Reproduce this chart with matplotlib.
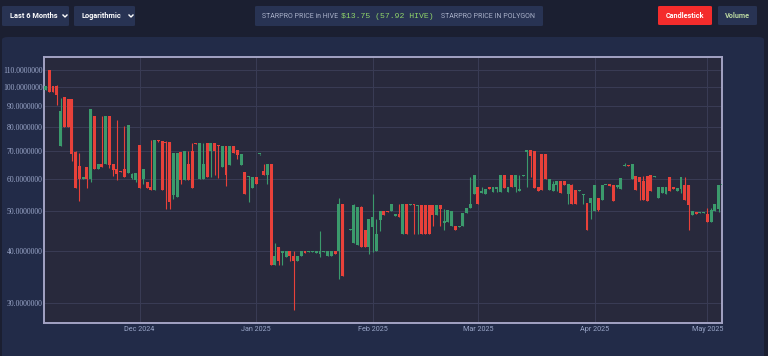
import numpy as np
import pandas as pd
import matplotlib
matplotlib.use('Agg')
import matplotlib.pyplot as plt
import matplotlib.dates as mdates
from matplotlib.patches import FancyBboxPatch
from matplotlib.lines import Line2D

nan = np.nan

# daily OHLC, STARPRO priced in HIVE, starting 2024-11-06
opens = [98.5, 109.7, 100.5, 100.5, 71.8, 94.6, 93.5, 93.5, 69.6, 64.5,
         60.0, 64.2, 60.0, 85.3, 63.5, 65.2, 65.2, 85.3, 65.2, 63.5,
         62.7, 63.4, 61.9, 60.3, 59.5, 72.2, 60.0, 59.0, 57.3, 56.2,
         74.3, 74.0, 73.8, 73.8, 54.7, 54.2, 69.6, 59.7, 65.2, 70.0,
         73.0, 60.0, 60.0, 73.0, 70.0, 73.0, 72.5, 64.0, 72.0, 64.6,
         72.0, 70.3, 64.8, 62.2, 60.5, 57.1, 60.6, 68.7, 62.5, 61.4,
         65.2, 37.0, 41.1, 39.6, 38.8, 40.0, 39.0, 38.0, 39.0, 40.0,
         39.9, 39.8, 39.6, 39.5, 39.9, 39.0, 39.1, 40.0, 40.0, 52.2,
         nan, 45.0, 42.0, 41.5, 51.2, 45.1, 41.1, 45.9, 40.0, 47.6,
         50.0, 50.0, 50.2, 48.8, 49.2, 44.1, 52.1, 51.8, 52.0, 51.5,
         51.7, 51.7, 51.7, 51.7, 49.0, 51.7, 46.9, 47.2, 46.1, 46.1,
         45.9, 46.1, 49.5, 51.0, 55.0, 57.3, 55.5, 55.2, 57.3, 55.7,
         56.8, 55.7, 61.1, 55.7, 61.1, 57.3, 56.0, 60.9, 69.8, 70.3,
         70.0, 57.3, 69.0, 69.0, 56.2, 56.0, 58.0, 59.2, 59.2, 55.1,
         58.0, 56.2, 56.0, 54.8, 52.4, 52.4, 50.0, 53.8, 53.4, 57.8,
         58.0, 58.0, 57.3, 56.8, 64.3, 64.8, 60.0, 60.8, 60.4, 59.2,
         60.8, 61.1, 60.6, 54.0, 55.5, 55.1, 60.4, 57.3, 56.0, 56.8,
         58.0, 58.0, 48.9, 49.8, 49.5, 49.5, 49.4, 47.2, 50.0, 50.8,
         57.8]
highs = [100.5, 110.2, 100.5, 101.2, 94.2, 94.6, 93.5, 93.5, 70.0, 69.2,
         60.3, 64.2, 88.6, 85.3, 65.0, 85.0, 85.2, 85.3, 65.2, 83.4,
         62.7, 80.3, 81.0, 62.0, 61.9, 72.2, 63.2, 59.0, 74.3, 74.3,
         74.3, 74.0, 74.0, 73.8, 69.2, 69.2, 69.6, 70.0, 70.0, 73.0,
         73.2, 73.0, 73.0, 73.0, 73.0, 73.0, 72.5, 72.0, 72.0, 72.0,
         72.0, 70.3, 68.9, 62.2, 61.0, 60.6, 60.6, 69.0, 65.2, 65.2,
         65.2, 41.9, 41.1, 40.0, 40.0, 40.0, 40.0, 39.0, 40.0, 40.0,
         40.1, 40.0, 40.0, 44.9, 40.0, 40.0, 40.0, 40.0, 53.8, 52.2,
         nan, 45.4, 52.0, 51.2, 51.5, 45.1, 48.0, 55.2, 48.0, 50.0,
         50.0, 50.0, 52.0, 49.2, 52.2, 52.1, 52.1, 52.1, 52.0, 51.8,
         51.7, 51.7, 51.7, 51.7, 51.7, 51.7, 50.8, 50.3, 50.0, 46.1,
         46.1, 49.5, 51.0, 60.4, 61.1, 57.3, 57.3, 56.7, 57.3, 57.3,
         57.3, 61.1, 61.1, 57.3, 61.1, 61.1, 61.1, 61.1, 70.3, 70.3,
         70.0, 57.3, 69.0, 69.0, 60.0, 59.2, 59.2, 59.2, 59.2, 58.3,
         58.3, 56.2, 56.2, 55.1, 52.4, 53.8, 58.0, 53.8, 58.0, 58.0,
         58.0, 58.0, 58.0, 60.3, 65.3, 64.8, 65.0, 60.8, 60.4, 60.8,
         60.8, 61.3, 60.8, 57.3, 57.3, 57.3, 60.4, 57.3, 57.0, 60.4,
         60.4, 58.0, 50.0, 49.8, 49.7, 49.7, 51.0, 51.0, 52.2, 58.0,
         58.0]
lows = [98.5, 97.2, 97.2, 90.3, 71.8, 80.0, 80.0, 66.2, 57.1, 53.0,
        59.8, 57.0, 59.0, 63.4, 63.5, 64.0, 65.2, 63.8, 60.8, 59.7,
        62.2, 60.6, 61.9, 59.9, 59.0, 57.0, 58.3, 57.0, 56.2, 56.2,
        73.8, 56.4, 50.8, 50.8, 53.5, 54.2, 58.2, 59.7, 59.7, 57.1,
        72.7, 60.0, 60.0, 60.6, 60.6, 61.1, 60.3, 64.0, 57.5, 64.6,
        69.3, 67.0, 64.8, 55.1, 52.7, 57.1, 58.3, 68.5, 61.4, 58.3,
        37.0, 37.0, 37.0, 37.0, 38.8, 38.0, 28.9, 38.0, 39.0, 39.6,
        39.9, 39.8, 39.6, 38.7, 39.9, 39.0, 38.9, 39.5, 34.3, 34.9,
        nan, 45.0, 42.0, 41.5, 41.1, 41.1, 39.5, 39.9, 40.0, 44.9,
        48.9, 49.7, 50.2, 48.8, 48.5, 44.1, 44.1, 51.8, 44.1, 44.1,
        44.1, 44.1, 44.1, 46.2, 49.0, 46.2, 45.1, 47.2, 46.1, 45.0,
        45.9, 46.1, 49.5, 51.0, 55.0, 52.0, 55.5, 55.2, 56.7, 55.7,
        55.7, 55.7, 57.1, 55.7, 57.3, 55.7, 56.0, 60.9, 57.3, 60.4,
        57.1, 56.0, 56.2, 60.0, 56.2, 56.0, 56.0, 55.4, 57.8, 52.2,
        52.2, 52.2, 56.0, 52.2, 45.0, 48.0, 50.0, 50.2, 53.4, 57.8,
        57.7, 53.0, 57.0, 56.8, 64.3, 64.4, 60.0, 56.4, 53.2, 53.2,
        53.0, 56.0, 60.6, 54.0, 55.5, 55.1, 56.0, 56.7, 56.0, 55.5,
        53.4, 45.0, 48.9, 49.3, 49.5, 49.5, 47.2, 47.2, 50.0, 49.8,
        57.8]
closes = [100.5, 97.2, 97.2, 95.5, 87.4, 80.0, 80.0, 68.9, 57.1, 60.0,
          60.3, 60.0, 88.6, 63.4, 65.0, 64.0, 85.2, 64.6, 63.0, 61.5,
          62.3, 60.6, 81.0, 61.5, 61.9, 57.0, 63.2, 57.0, 56.2, 74.3,
          73.9, 56.4, 73.0, 52.6, 69.2, 69.2, 59.7, 70.0, 59.7, 57.1,
          72.8, 73.0, 65.2, 60.6, 73.0, 70.0, 72.0, 72.0, 61.1, 72.0,
          69.3, 68.3, 68.9, 55.1, 61.0, 60.6, 58.3, 69.0, 61.4, 65.2,
          37.0, 39.1, 38.0, 40.0, 40.0, 39.0, 38.0, 39.0, 40.0, 39.6,
          40.1, 40.0, 40.0, 40.0, 40.0, 40.0, 40.0, 39.5, 52.2, 34.9,
          nan, 45.3, 51.7, 51.2, 41.1, 41.1, 48.0, 48.4, 44.2, 50.0,
          48.9, 49.7, 52.0, 49.2, 48.5, 52.1, 44.1, 52.1, 51.8, 51.8,
          44.1, 44.1, 44.1, 49.0, 51.7, 50.8, 47.4, 50.3, 50.0, 45.0,
          46.1, 49.5, 51.0, 52.2, 61.1, 52.0, 56.0, 56.7, 56.7, 57.3,
          57.0, 61.1, 57.1, 57.3, 57.3, 61.1, 56.6, 61.1, 70.2, 68.0,
          57.1, 56.0, 56.2, 60.0, 60.0, 58.3, 59.2, 55.4, 57.8, 58.3,
          52.2, 52.2, 56.2, 55.1, 45.0, 53.8, 58.0, 50.5, 58.0, 58.0,
          57.7, 53.0, 58.0, 60.3, 64.7, 64.4, 65.0, 56.4, 58.9, 53.2,
          53.0, 56.0, 60.8, 57.3, 57.3, 57.3, 56.0, 56.7, 57.0, 60.4,
          53.4, 51.8, 50.0, 49.3, 49.7, 49.7, 47.2, 50.3, 52.2, 58.0,
          58.0]

start_date = '2024-11-06'
y_ticks = [30, 40, 50, 60, 70, 80, 90, 100, 110]
month_ticks = ['2024-12-01', '2025-01-01', '2025-02-01', '2025-03-01', '2025-04-01', '2025-05-01']
month_labels = ['Dec 2024', 'Jan 2025', 'Feb 2025', 'Mar 2025', 'Apr 2025', 'May 2025']

W, H = 768, 356
fig = plt.figure(figsize=(W / 100, H / 100), dpi=100)
fig.patch.set_facecolor('#1b1f31')


def fx(x):
    return x / W


def fy(y):
    return 1 - y / H


def box(x0, y0, x1, y1, color, r=2):
    p = FancyBboxPatch((fx(x0), fy(y1)), fx(x1 - x0), (y1 - y0) / H,
                       boxstyle='round,pad=0,rounding_size=%f' % (r / W),
                       transform=fig.transFigure, facecolor=color, edgecolor='none',
                       zorder=-5)
    fig.patches.append(p)


def chevron(x, y):
    fig.lines.append(Line2D([fx(x - 2), fx(x), fx(x + 2)], [fy(y - 1), fy(y + 1), fy(y - 1)],
                            transform=fig.transFigure, color='white', lw=1.0))


# card behind the chart
box(2, 37, 764, 380, '#222b48', r=6)

# top controls
box(2, 6, 69, 26, '#283353')
fig.text(fx(10), fy(16.5), 'Last 6 Months', color='white', fontsize=5.3, fontweight='bold',
         family='Roboto', va='center')
chevron(65, 16)
box(74, 6, 135, 26, '#283353')
fig.text(fx(82), fy(16.5), 'Logarithmic', color='white', fontsize=5.3, fontweight='bold',
         family='Roboto', va='center')
chevron(131, 16)

box(255, 6, 543, 26, '#283353')
fig.text(fx(262), fy(16.5), 'STARPRO PRICE in HIVE', color='#a9b1c9', fontsize=5.0,
         family='Roboto', va='center')
fig.text(fx(341), fy(16.5), '$13.75 (57.92 HIVE)', color='#8fd36a', fontsize=5.9,
         family='Liberation Mono', va='center')
fig.text(fx(441), fy(16.5), 'STARPRO PRICE IN POLYGON', color='#a9b1c9', fontsize=5.0,
         family='Roboto', va='center')

box(658, 6, 712, 25, '#f42c2c')
fig.text(fx(685), fy(15.8), 'Candlestick', color='white', fontsize=5.2, fontweight='bold',
         family='Roboto', va='center', ha='center')
box(718, 6, 757, 25, '#283353')
fig.text(fx(737.5), fy(15.8), 'Volume', color='#b9d6a0', fontsize=5.2, fontweight='bold',
         family='Roboto', va='center', ha='center')

# chart
ax = fig.add_axes([fx(44), fy(323), fx(722 - 44), (323 - 57) / H])
ax.set_facecolor('#28293c')

dates = pd.date_range(start_date, periods=len(opens), freq='D')
x = mdates.date2num(dates)
o = np.array(opens)
c = np.array(closes)
hi = np.array(highs)
lo = np.array(lows)
up = c >= o
green = '#3b9a6c'
red = '#e8413a'

ax.vlines(x[up], lo[up], hi[up], color=green, lw=0.8, zorder=3)
ax.vlines(x[~up], lo[~up], hi[~up], color=red, lw=0.8, zorder=3)
bot = np.minimum(o, c)
top = np.maximum(np.maximum(o, c), bot * 1.007)
ax.bar(x[up], top[up] - bot[up], bottom=bot[up], width=0.78, color=green, zorder=4, linewidth=0)
ax.bar(x[~up], top[~up] - bot[~up], bottom=bot[~up], width=0.78, color=red, zorder=4, linewidth=0)

ax.set_yscale('log')
ax.set_ylim(26.85, 118.2)
x0 = x[0] - 0.4
ax.set_xlim(x0, x0 + 180.3)

ax.yaxis.set_major_locator(matplotlib.ticker.FixedLocator(y_ticks))
ax.yaxis.set_minor_locator(matplotlib.ticker.NullLocator())
ax.set_yticklabels(['%.7f' % v for v in y_ticks])
ax.set_xticks(mdates.date2num(pd.to_datetime(month_ticks)))
ax.set_xticklabels(month_labels)
ax.tick_params(axis='y', length=0, pad=1, labelsize=5.6, labelcolor='#9aa6c8')
ax.tick_params(axis='x', length=0, pad=2, labelsize=5.2, labelcolor='#9aa6c8')
for t in ax.get_yticklabels():
    t.set_family('Liberation Serif')
for t in ax.get_xticklabels():
    t.set_family('Roboto')
ax.grid(True, color='#3a3c55', lw=0.7, zorder=0)
for s in ax.spines.values():
    s.set_color('#a3a3c4')
    s.set_linewidth(1.4)

fig.savefig('out.png', dpi=100, facecolor=fig.get_facecolor())
